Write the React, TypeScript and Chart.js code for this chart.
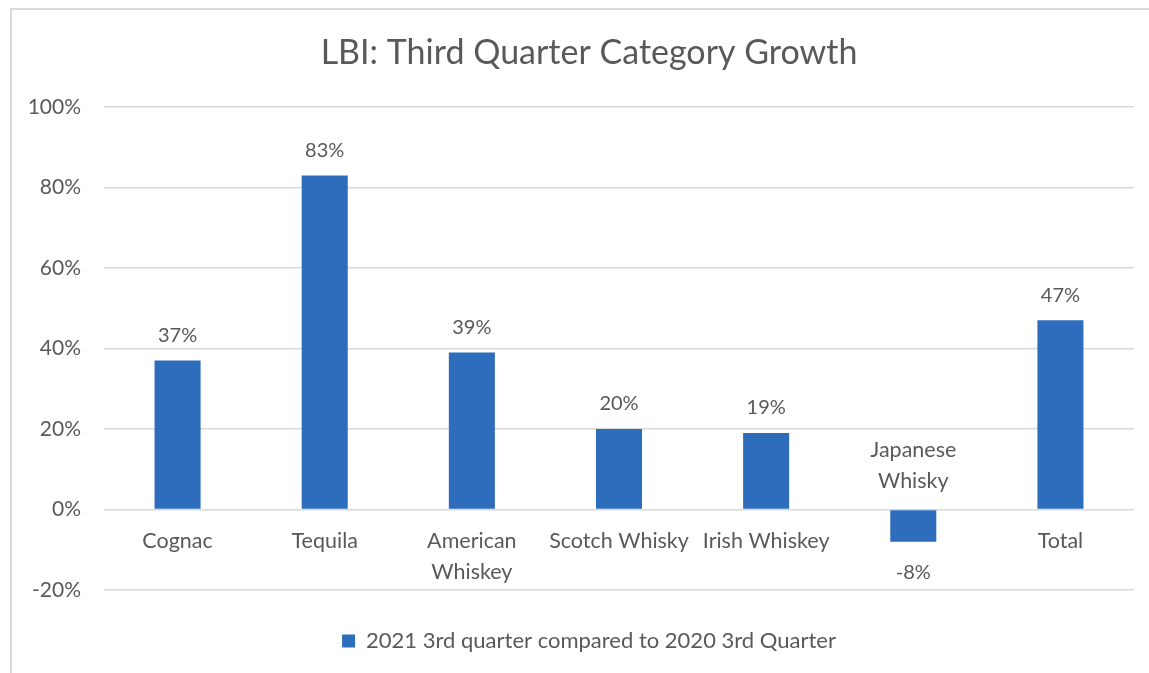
import React, { useEffect, useRef } from "react";
import { Chart, registerables } from "chart.js";

Chart.register(...registerables);

const categories: string[][] = [
  ["Cognac"],
  ["Tequila"],
  ["American", "Whiskey"],
  ["Scotch Whisky"],
  ["Irish Whiskey"],
  ["Japanese", "Whisky"],
  ["Total"],
];
const growth: number[] = [37, 83, 39, 20, 19, -8, 47];
const seriesName = "2021 3rd quarter compared to 2020 3rd Quarter";
const chartTitle = "LBI: Third Quarter Category Growth";
const yMin = -20;
const yMax = 100;
const yStep = 20;

const FONT = "Lato, 'Open Sans', sans-serif";
const TEXT = "#595959";
const BAR = "#2D6DBB";
const GRID = "#D9D9D9";

const widenAxisPlugin = {
  id: "widenAxis",
  afterLayout(chart: any) {
    chart.scales.y.left = 0;
  },
};

const labelsPlugin = {
  id: "excelLabels",
  afterDatasetsDraw(chart: any) {
    const ctx = chart.ctx;
    const x = chart.scales.x;
    const y = chart.scales.y;
    const zero = y.getPixelForValue(0);
    const meta = chart.getDatasetMeta(0);
    ctx.save();
    ctx.fillStyle = TEXT;
    ctx.textAlign = "center";
    ctx.textBaseline = "middle";
    const lh = 31;
    categories.forEach((lines, i) => {
      const cx = x.getPixelForValue(i);
      const v = growth[i];
      ctx.font = `21.5px ${FONT}`;
      if (v >= 0) {
        lines.forEach((t, k) => ctx.fillText(t, cx, zero + 32 + k * lh));
      } else {
        const n = lines.length;
        lines.forEach((t, k) => ctx.fillText(t, cx, zero - 28 - (n - 1 - k) * lh));
      }
      const bar = meta.data[i];
      ctx.font = `20px ${FONT}`;
      const ty = v >= 0 ? bar.y - 25 : bar.y + 31;
      ctx.fillText(`${v}%`, cx, ty);
    });
    ctx.restore();
  },
};

export default function App() {
  const ref = useRef<HTMLCanvasElement | null>(null);
  useEffect(() => {
    if (!ref.current) return;
    const chart = new Chart(ref.current, {
      type: "bar",
      data: {
        labels: categories.map((c) => c.join(" ")),
        datasets: [
          {
            label: seriesName,
            data: growth,
            backgroundColor: BAR,
            borderWidth: 0,
            barPercentage: 0.313,
            categoryPercentage: 1,
          },
        ],
      },
      options: {
        animation: false,
        responsive: true,
        maintainAspectRatio: false,
        layout: { padding: { left: 44, right: 15, top: 0, bottom: 11 } },
        plugins: {
          title: {
            display: true,
            text: chartTitle,
            color: TEXT,
            font: { family: FONT, size: 34, weight: "normal" },
            padding: { top: 32.6, bottom: 33.6 },
          },
          legend: {
            display: true,
            position: "bottom",
            labels: {
              color: TEXT,
              font: { family: FONT, size: 22 },
              boxWidth: 13,
              boxHeight: 13,
              padding: 40,
            },
          },
          tooltip: { enabled: false },
        },
        scales: {
          x: { display: false },
          y: {
            min: yMin,
            max: yMax,
            afterFit(scale: any) {
              scale.width = 60;
            },
            border: { display: false },
            grid: { color: GRID, lineWidth: 1.5, drawTicks: false },
            ticks: {
              stepSize: yStep,
              padding: 23,
              color: TEXT,
              font: { family: FONT, size: 21 },
              callback: (v: any) => `${v}%`,
            },
          },
        },
      },
      plugins: [widenAxisPlugin, labelsPlugin],
    });
    return () => chart.destroy();
  }, []);
  return (
    <div style={{ position: "fixed", left: 0, top: 0, width: 1149, height: 673, background: "#fff" }}>
      <div
        style={{
          position: "absolute",
          left: 10,
          top: 8,
          width: 1139,
          height: 665,
          borderTop: `2px solid ${GRID}`,
          borderLeft: `2px solid ${GRID}`,
          boxSizing: "border-box",
        }}
      />
      <canvas ref={ref} style={{ position: "absolute", left: 0, top: 0 }} />
    </div>
  );
}
